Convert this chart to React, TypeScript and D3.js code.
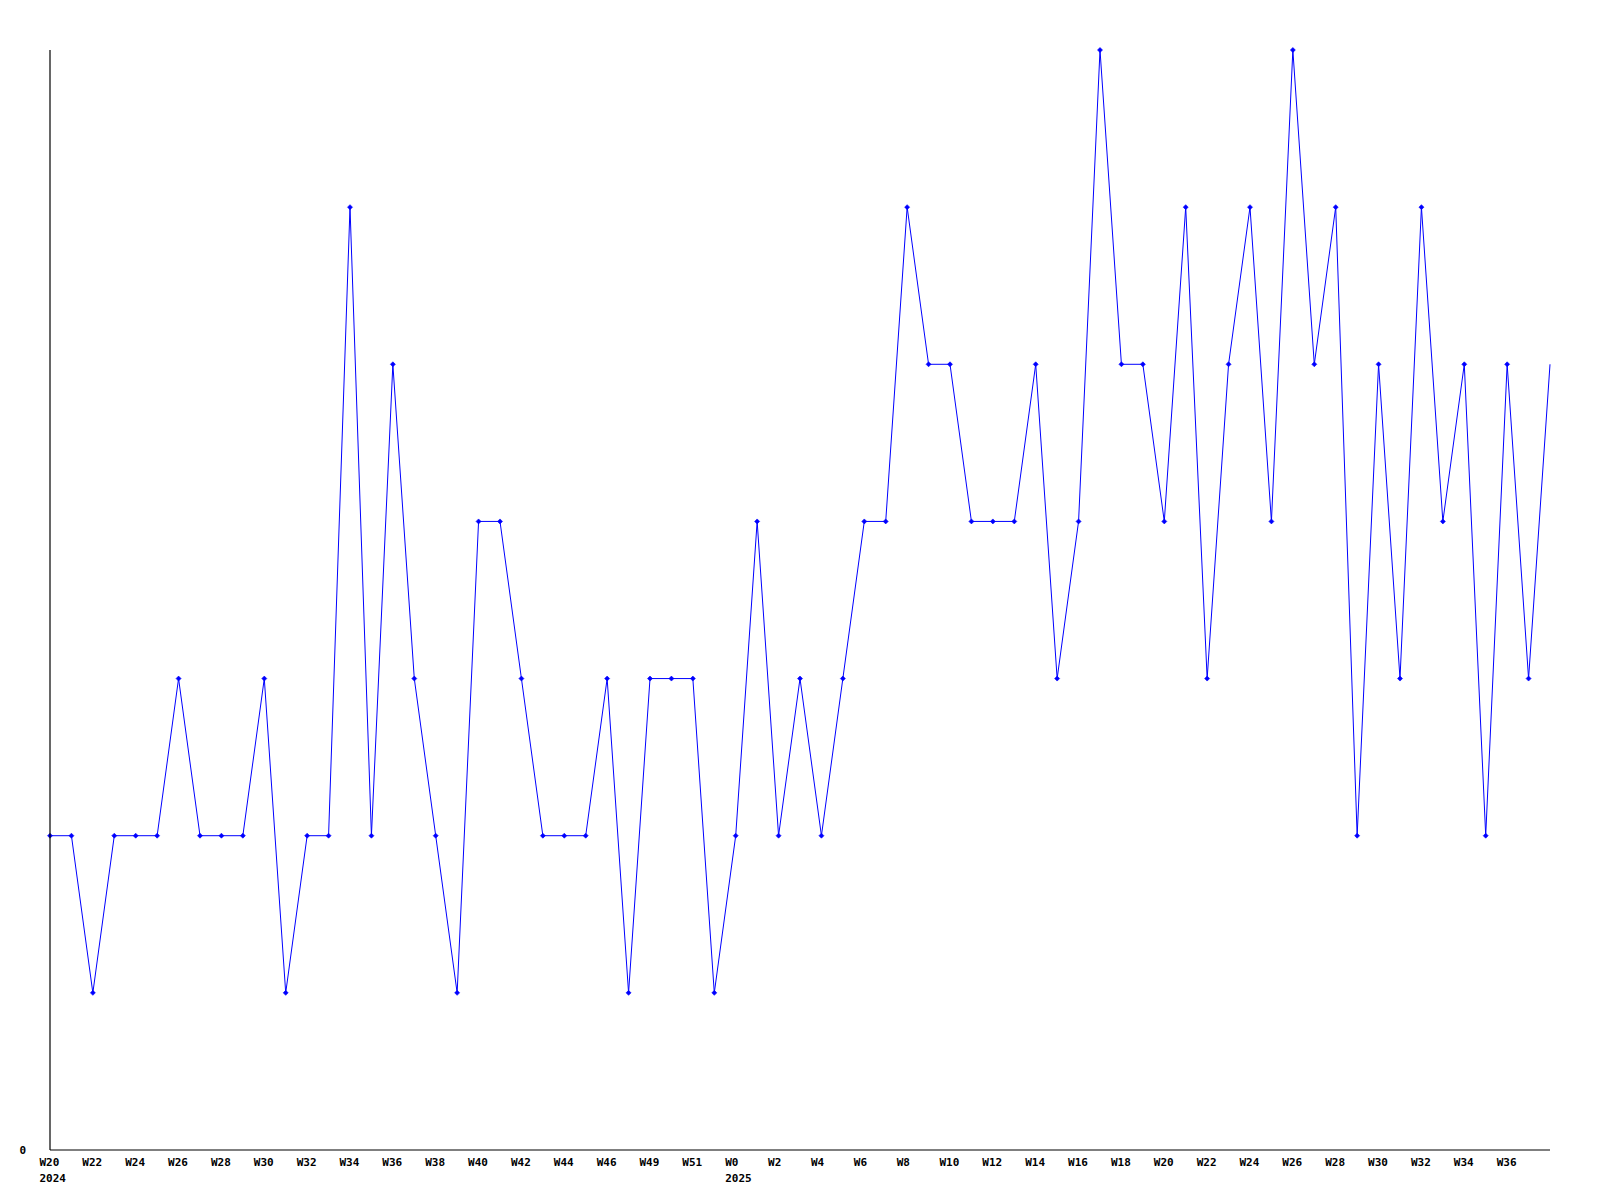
import React from "react";
import * as d3 from "d3";

const weekLabels: string[] = [
  "W20","W21","W22","W23","W24","W25","W26","W27","W28","W29",
  "W30","W31","W32","W33","W34","W35","W36","W37","W38","W39",
  "W40","W41","W42","W43","W44","W45","W46","W48","W49","W50",
  "W51","W52","W0","W1","W2","W3","W4","W5","W6","W7",
  "W8","W9","W10","W11","W12","W13","W14","W15","W16","W17",
  "W18","W19","W20","W21","W22","W23","W24","W25","W26","W27",
  "W28","W29","W30","W31","W32","W33","W34","W35","W36","W37","W38",
];

const values: number[] = [
  2, 2, 1, 2, 2, 2, 3, 2, 2, 2,
  3, 1, 2, 2, 6, 2, 5, 3, 2, 1,
  4, 4, 3, 2, 2, 2, 3, 1, 3, 3,
  3, 1, 2, 4, 2, 3, 2, 3, 4, 4,
  6, 5, 5, 4, 4, 4, 5, 3, 4, 7,
  5, 5, 4, 6, 3, 5, 6, 4, 7, 5,
  6, 2, 5, 3, 6, 4, 5, 2, 5, 3, 5,
];

const yearLabels: { index: number; year: string }[] = [
  { index: 0, year: "2024" },
  { index: 32, year: "2025" },
];

const yTickValues: number[] = [0];

export default function App() {
  const width = 1600;
  const height = 1200;
  const left = 50, right = 1550, top = 50, bottom = 1150;

  const x = d3.scaleLinear().domain([0, values.length - 1]).range([left, right]);
  const y = d3.scaleLinear().domain([0, 7]).range([bottom, top]);

  const line = d3.line<number>().x((_, i) => x(i)).y((d) => y(d));
  const diamond = (cx: number, cy: number, r: number) =>
    `M${cx},${cy - r}L${cx + r},${cy}L${cx},${cy + r}L${cx - r},${cy}Z`;

  const font = "'DejaVu Sans Mono', monospace";
  const yearMap = new Map(yearLabels.map((d) => [d.index, d.year]));
  const last = values.length - 1;

  return (
    <svg
      width={width}
      height={height}
      style={{ position: "absolute", left: 0, top: 0, background: "#fff" }}
    >
      <path d={line(values) || ""} fill="none" stroke="#0000ff" strokeWidth={1} />
      {values.map((v, i) =>
        i === last ? null : (
          <path key={i} d={diamond(x(i), y(v), 2.5)} fill="#0000ff" stroke="#0000ff" strokeWidth={0.6} />
        )
      )}
      <line x1={left} y1={top} x2={left} y2={bottom} stroke="#000" strokeWidth={1.2} />
      <line x1={left} y1={bottom} x2={right} y2={bottom} stroke="#000" strokeWidth={1.2} />
      {yTickValues.map((t) => (
        <text key={t} x={26} y={y(t) + 4} textAnchor="end" fontFamily={font} fontWeight="bold" fontSize={11}>
          {t}
        </text>
      ))}
      {weekLabels.map((w, i) => {
        if (i % 2 !== 0 || i === last) return null;
        const yr = yearMap.get(i);
        const lx = x(i) - 10.5;
        return (
          <g key={i}>
            <text x={lx} y={1166} fontFamily={font} fontWeight="bold" fontSize={11}>{w}</text>
            {yr ? (
              <text x={lx} y={1182} fontFamily={font} fontWeight="bold" fontSize={11}>{yr}</text>
            ) : null}
          </g>
        );
      })}
    </svg>
  );
}
